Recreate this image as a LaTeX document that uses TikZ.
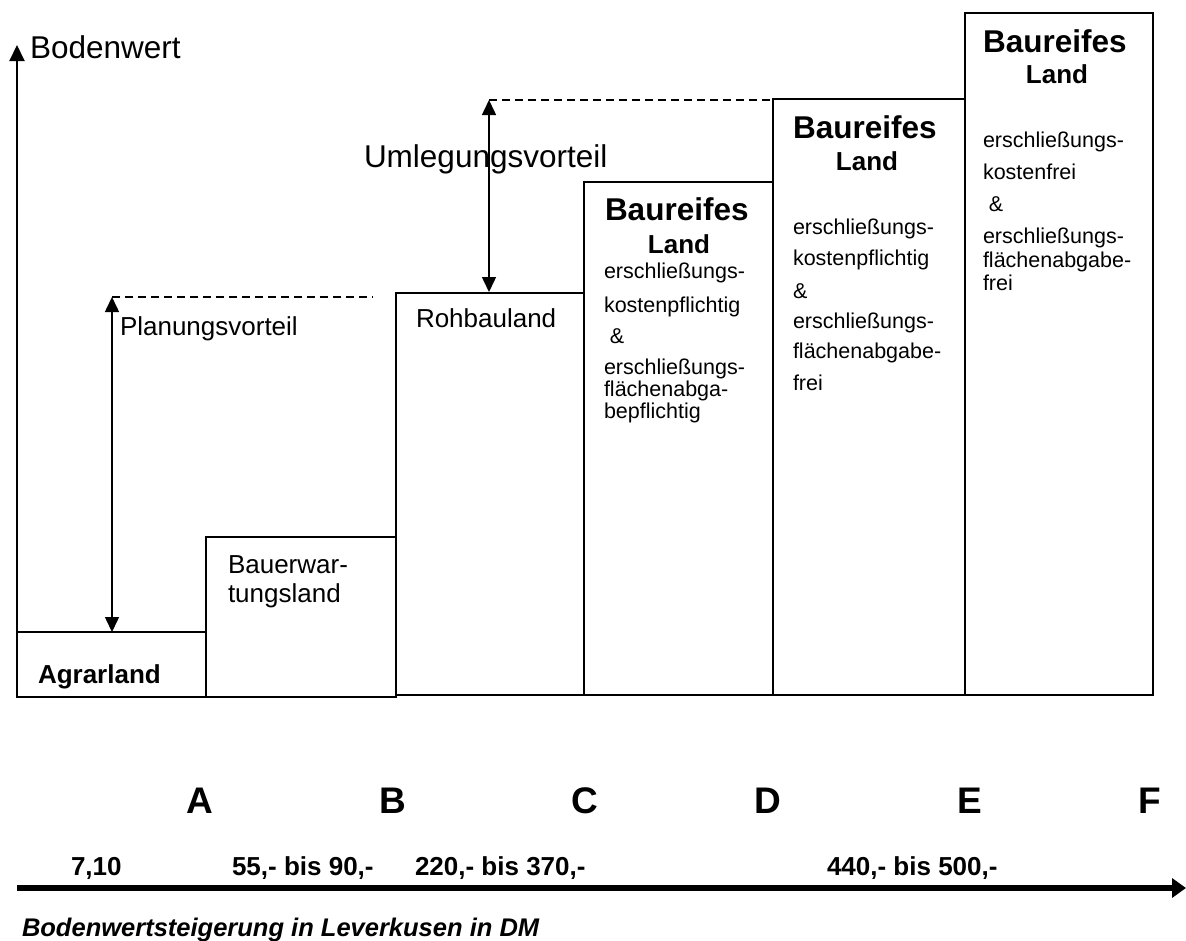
\documentclass[tikz,border=0pt]{standalone}
\usepackage{fontspec}
\setmainfont{Liberation Sans}
\usetikzlibrary{arrows.meta}

\begin{document}
\begin{tikzpicture}[x = 1pt, y = -1pt,
  every node/.style = {inner sep = 0pt, outer sep = 0pt},
  box/.style = {draw = black, line width = 2pt},
  big/.style = {font = \fontsize{31.5}{36}\selectfont, anchor = base west},
  mid/.style = {font = \fontsize{26}{30}\selectfont, anchor = base west},
  midbold/.style = {font = \bfseries\fontsize{26}{30}\selectfont, anchor = base west},
  small/.style = {font = \fontsize{21.5}{26}\selectfont, anchor = base west},
  head/.style = {font = \bfseries\fontsize{31.5}{36}\selectfont, anchor = base west},
  landtxt/.style = {font = \bfseries\fontsize{26}{30}\selectfont, anchor = base},
  letter/.style = {font = \bfseries\fontsize{37}{42}\selectfont, anchor = base},
  gain/.style = {line width = 1.5pt, {Triangle[length = 15pt, width = 14pt]}-{Triangle[length = 15pt, width = 14pt]}},
  level/.style = {line width = 1.5pt, dash pattern = on 8pt off 5pt}]
\useasboundingbox (0,0) rectangle (1186,940);
\fill [white] (0,0) rectangle (1186,940);

\coordinate (origin) at (17,697);
\coordinate (ytip) at (17,45);
\draw [line width = 2pt, -{Triangle[length = 16pt, width = 15pt]}] (origin) -- (ytip);
\node [big] (bodenwert) at (30,58) {Bodenwert};

\foreach \xa/\xb/\ya/\yb in {17/206/632/697, 206/396/537/697, 396/584/293/695, 584/773/182/695, 773/965/99/695, 965/1153/13/695}
  \draw [box] (\xa,\yb) rectangle (\xb,\ya);

\coordinate (pv top) at (112,297);
\coordinate (pv bot) at (112,632);
\coordinate (pv end) at (373,297);
\draw [level] (pv top) -- (pv end);
\draw [gain] (pv top) -- (pv bot);
\node [mid] (planung) at (120,335) {Planungsvorteil};

\coordinate (uv top) at (489,100);
\coordinate (uv bot) at (489,292);
\coordinate (uv end) at (773,100);
\draw [level] (uv top) -- (uv end);
\draw [gain] (uv top) -- (uv bot);
\node [big] (umlegung) at (364,167) {Umlegungsvorteil};

\node [midbold] (agrar) at (38,683) {Agrarland};
\node [mid] (bauerw1) at (228,573) {Bauerwar-};
\node [mid] (bauerw2) at (228,602) {tungsland};
\node [mid] (rohbau) at (416,327) {Rohbauland};

\node [head] (bauC) at (605,220) {Baureifes};
\node [landtxt] (landC) at (679,253) {Land};
\foreach \t/\y [count = \i] in {erschließungs-/278, kostenpflichtig/312, \ \&/343, erschließungs-/374, flächenabga-/396, bepflichtig/418}
  \node [small] (txC\i) at (604,\y) {\t};

\node [head] (bauD) at (793,138) {Baureifes};
\node [landtxt] (landD) at (867,170) {Land};
\foreach \t/\y [count = \i] in {erschließungs-/234, kostenpflichtig/265, \&/298, erschließungs-/328, flächenabgabe-/358, frei/390}
  \node [small] (txD\i) at (793,\y) {\t};

\node [head] (bauE) at (983,52) {Baureifes};
\node [landtxt] (landE) at (1057,83) {Land};
\foreach \t/\y [count = \i] in {erschließungs-/147, kostenfrei/179, \ \&/211, erschließungs-/243, flächenabgabe-/267, frei/290}
  \node [small] (txE\i) at (983,\y) {\t};

\foreach \l/\x in {A/200, B/393, C/585, D/768, E/970, F/1150}
  \node [letter] (\l) at (\x,813) {\l};

\node [midbold] (wert1) at (71,875) {7,10};
\node [midbold] (wert2) at (232,875) {55,- bis 90,-};
\node [midbold] (wert3) at (415,875) {220,- bis 370,-};
\node [midbold] (wert4) at (827,875) {440,- bis 500,-};

\coordinate (xstart) at (17,888);
\coordinate (xtip) at (1186,888);
\draw [line width = 6pt, -{Triangle[length = 14pt, width = 19pt]}] (xstart) -- (xtip);
\node [anchor = base west, font = \bfseries\itshape\fontsize{25.5}{30}\selectfont] (caption) at (22,936) {Bodenwertsteigerung in Leverkusen in DM};
\end{tikzpicture}
\end{document}
